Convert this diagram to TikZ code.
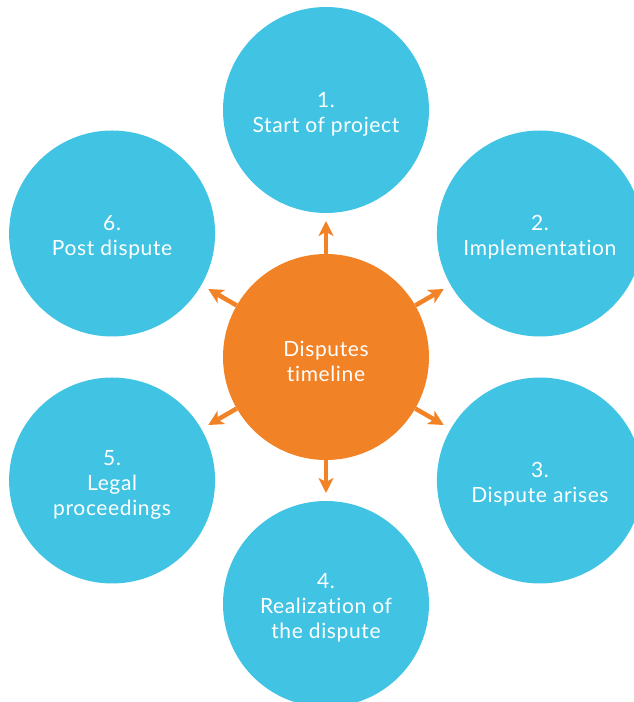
\documentclass[tikz,border=0pt]{standalone}
\usepackage{fontspec}
\setmainfont{Lato}[LetterSpace=3,Ligatures={NoCommon}]
\usetikzlibrary{arrows.meta,calc}
\definecolor{stageblue}{RGB}{65,196,227}
\definecolor{hubbrange}{RGB}{242,130,38}
\begin{document}
\begin{tikzpicture}[x=1pt,y=1pt,
  stage/.style={circle,fill=stageblue,minimum size=206pt,inner sep=0pt},
  hub/.style={stage,fill=hubbrange},
  caption/.style={text=white,align=center,inner sep=0pt,
    font=\fontsize{21}{25}\selectfont},
  spoke/.style={draw=hubbrange,line width=4.5pt,
    -{Stealth[length=15pt,width=15pt,inset=4pt]}}]
\useasboundingbox (0,0) rectangle (633,702);
% central hub
\node[hub] (c) at (326,345) {};
\node[caption] (lc) at ($(c)+(0,-4)$) {Disputes\\timeline};
% six stages around the hub
\node[stage] (s1) at ($(c)+(90:247)$)  {};
\node[stage] (s2) at ($(c)+(30:247)$)  {};
\node[stage] (s3) at ($(c)+(-30:247)$) {};
\node[stage] (s4) at ($(c)+(-90:247)$) {};
\node[stage] (s5) at ($(c)+(-150:247)$){};
\node[stage] (s6) at ($(c)+(150:247)$) {};
\node[caption] (l1) at ($(s1)+(0,-4)$) {1.\\Start of project};
\node[caption] (l2) at ($(s2)+(0,-4)$) {2.\\Implementation};
\node[caption] (l3) at ($(s3)+(0,-4)$) {3.\\Dispute arises};
\node[caption] (l4) at ($(s4)+(0,-4)$) {4.\\Realization of\\the dispute};
\node[caption] (l5) at ($(s5)+(0,-4)$) {5.\\Legal\\proceedings};
\node[caption] (l6) at ($(s6)+(0,-4)$) {6.\\Post dispute};
% arrows from the hub towards each stage
\foreach \a/\n in {90/1,30/2,-30/3,-90/4,-150/5,150/6}{
  \coordinate (t\n) at ($(c)+(\a:136)$);
  \draw[spoke] (c.\a) -- (t\n);
}
\end{tikzpicture}
\end{document}
